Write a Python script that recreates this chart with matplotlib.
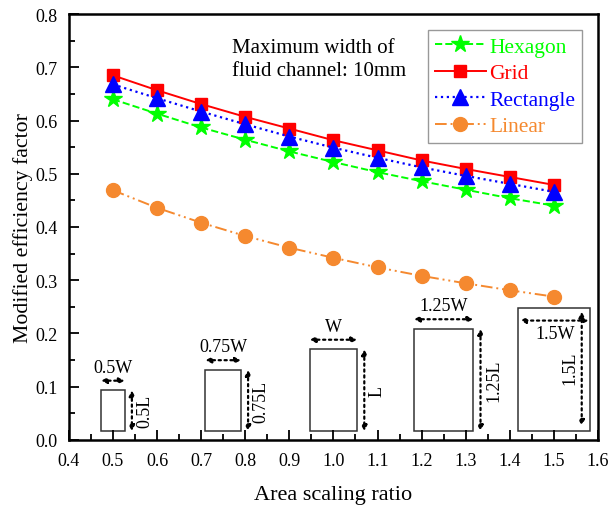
import matplotlib.pyplot as plt
from matplotlib.patches import Rectangle

plt.rcParams['font.family'] = ['Liberation Serif', 'DejaVu Serif']

# Data
ratio = [0.5, 0.6, 0.7, 0.8, 0.9, 1.0, 1.1, 1.2, 1.3, 1.4, 1.5]
hexagon = [0.640, 0.613, 0.587, 0.564, 0.542, 0.522, 0.503, 0.486, 0.470, 0.454, 0.440]
grid = [0.685, 0.657, 0.631, 0.607, 0.585, 0.563, 0.544, 0.525, 0.509, 0.494, 0.479]
rectangle = [0.668, 0.642, 0.617, 0.593, 0.570, 0.549, 0.530, 0.512, 0.496, 0.481, 0.466]
linear = [0.469, 0.436, 0.408, 0.383, 0.361, 0.342, 0.324, 0.308, 0.294, 0.281, 0.269]

# Channel sketches (scale of W and L, centred on the matching ratio)
scales = [0.5, 0.75, 1.0, 1.25, 1.5]
w_labels = ['0.5W', '0.75W', 'W', '1.25W', '1.5W']
l_labels = ['0.5L', '0.75L', 'L', '1.25L', '1.5L']

fig = plt.figure(figsize=(6.09, 5.06), dpi=100)
ax = fig.add_axes([0.113, 0.129, 0.869, 0.841])

ax.plot(ratio, hexagon, '--', color='#00ff00', marker='*', markersize=13, lw=1.4, label='Hexagon')
ax.plot(ratio, grid, '-', color='#ff0000', marker='s', markersize=9, lw=1.4, label='Grid')
ax.plot(ratio, rectangle, ':', color='#0000ff', marker='^', markersize=11, lw=1.6, label='Rectangle')
ax.plot(ratio, linear, color='#f5892f', marker='o', markersize=10, lw=1.4,
        dashes=[6, 2, 1, 2, 1, 2], label='Linear')

# Sketches of the scaled channel
W, L, base = 0.108, 0.154, 0.016
arrow = dict(arrowstyle='<|-|>', linestyle=':', lw=1.6, color='black', mutation_scale=8,
             shrinkA=0, shrinkB=0)
for s, wl, ll in zip(scales, w_labels, l_labels):
    w, h = W * s, L * s
    x0 = s - w / 2
    ax.add_patch(Rectangle((x0, base), w, h, fill=False, ec='#333333', lw=1.1))
    if s < 1.5:
        ya = base + h + 0.018
        ax.annotate('', xy=(x0, ya), xytext=(x0 + w, ya), arrowprops=arrow)
        ax.text(s, ya + 0.009, wl, ha='center', va='bottom', fontsize=13)
        xa = x0 + w + 0.016
        ax.annotate('', xy=(xa, base), xytext=(xa, base + h), arrowprops=arrow)
        ax.text(xa + 0.01, base + h / 2, ll, rotation=90, ha='left', va='center', fontsize=13)
    else:
        ya = base + h - 0.023
        ax.annotate('', xy=(x0 + 0.004, ya), xytext=(x0 + w - 0.002, ya), arrowprops=arrow)
        ax.text(s + 0.002, ya - 0.008, wl, ha='center', va='top', fontsize=13)
        xa = x0 + w - 0.018
        ax.annotate('', xy=(xa, base + 0.01), xytext=(xa, base + h - 0.006), arrowprops=arrow)
        ax.text(xa - 0.008, 0.137, ll, rotation=90, ha='right', va='center', fontsize=13)

ax.text(0.77, 0.715, 'Maximum width of\nfluid channel: 10mm', fontsize=15, ha='left', va='center',
        linespacing=1.3)

ax.set_xlim(0.4, 1.6)
ax.set_ylim(0.0, 0.8)
ax.set_xticks([0.4 + 0.1 * i for i in range(13)])
ax.set_xticks([0.45 + 0.1 * i for i in range(12)], minor=True)
ax.set_yticks([0.1 * i for i in range(9)])
ax.set_yticks([0.05 + 0.1 * i for i in range(8)], minor=True)
ax.xaxis.set_major_formatter('{x:.1f}')
ax.yaxis.set_major_formatter('{x:.1f}')
ax.tick_params(which='major', direction='in', length=7, width=1.3, labelsize=13)
ax.tick_params(which='minor', direction='in', length=4, width=1.3)
ax.tick_params(axis='x', which='major', pad=9)
ax.tick_params(axis='y', which='major', pad=8)
for sp in ax.spines.values():
    sp.set_linewidth(1.8)

ax.set_xlabel('Area scaling ratio', fontsize=16, labelpad=11)
ax.set_ylabel('Modified efficiency factor', fontsize=15.7, labelpad=2)

leg = ax.legend(loc='upper right', fontsize=15.5, handlelength=2.4, borderpad=0.3, labelspacing=0.3,
                handletextpad=0.15, borderaxespad=0.75, fancybox=False, edgecolor='gray')
leg.get_frame().set_linewidth(1.0)
for txt, line in zip(leg.get_texts(), leg.get_lines()):
    txt.set_color(line.get_color())

fig.savefig('out.png', dpi=100)
